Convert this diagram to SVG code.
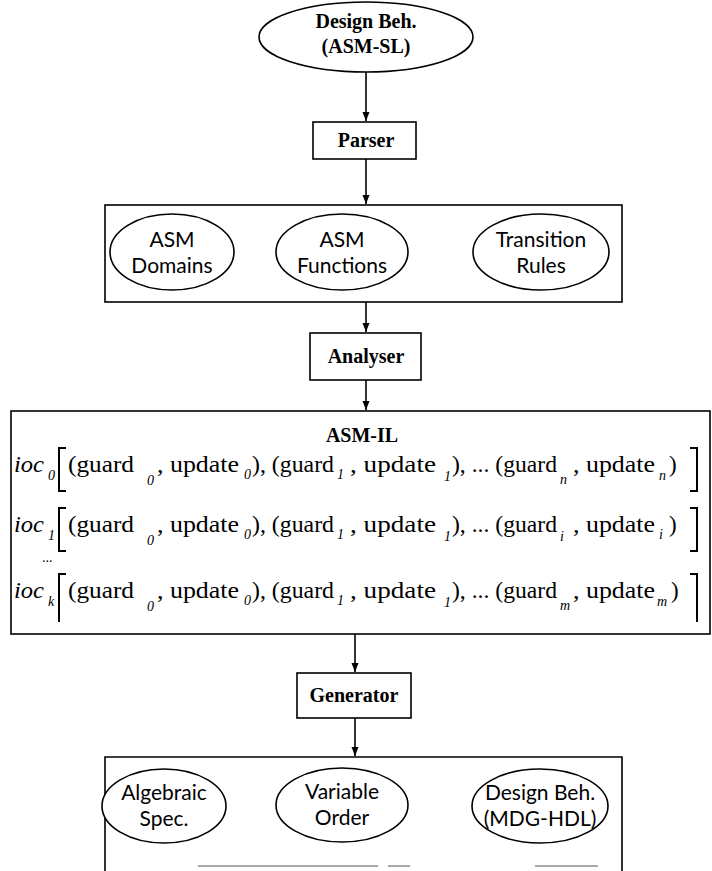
<svg xmlns="http://www.w3.org/2000/svg" width="712" height="871" viewBox="0 0 712 871">
<defs>
<marker id="ah" markerWidth="10" markerHeight="10" refX="9" refY="5" orient="auto" markerUnits="userSpaceOnUse">
<path d="M0,1.5 L9,5 L0,8.5 Z" fill="#000"/>
</marker>
<style>
.sh{fill:#fff;stroke:#000;stroke-width:1.6}
.ln{fill:none;stroke:#000;stroke-width:1.6}
.b{font-family:"Liberation Serif",serif;font-weight:bold;font-size:20px;fill:#000;text-anchor:middle}
.s{font-family:Lato,"Open Sans",sans-serif;font-size:21px;fill:#000;text-anchor:middle}
.r{font-family:"Liberation Serif",serif;font-size:23px;fill:#000}
.i{font-family:"Liberation Serif",serif;font-style:italic;font-size:23px;fill:#000}
.sub{font-family:"Liberation Serif",serif;font-style:italic;font-size:14px;fill:#000}
.br{fill:none;stroke:#000;stroke-width:2}
</style>
</defs>
<rect width="712" height="871" fill="#fff"/>

<g id="connectors">
<line class="ln" x1="366" y1="72" x2="366" y2="121" marker-end="url(#ah)"/>
<line class="ln" x1="366" y1="159" x2="366" y2="204" marker-end="url(#ah)"/>
<line class="ln" x1="366" y1="302" x2="366" y2="332" marker-end="url(#ah)"/>
<line class="ln" x1="366" y1="380" x2="366" y2="410" marker-end="url(#ah)"/>
<line class="ln" x1="355" y1="634" x2="355" y2="672" marker-end="url(#ah)"/>
<line class="ln" x1="355" y1="718" x2="355" y2="756" marker-end="url(#ah)"/>
</g>

<g id="design-beh-asmsl">
<ellipse class="sh" cx="366" cy="37" rx="107" ry="35"/>
<text class="b" x="366" y="28">Design Beh.</text>
<text class="b" x="366" y="53">(ASM-SL)</text>
</g>

<g id="parser">
<rect class="sh" x="313" y="122" width="103" height="37"/>
<text class="b" x="366" y="147">Parser</text>
</g>

<g id="asm-sl-parts">
<rect class="sh" x="105" y="205" width="517" height="97"/>
<g id="asm-domains">
<ellipse class="sh" cx="172" cy="252" rx="62" ry="38"/>
<text class="s" x="172" y="247">ASM</text>
<text class="s" x="172" y="273">Domains</text>
</g>
<g id="asm-functions">
<ellipse class="sh" cx="342" cy="252" rx="66" ry="38"/>
<text class="s" x="342" y="247">ASM</text>
<text class="s" x="342" y="273">Functions</text>
</g>
<g id="transition-rules">
<ellipse class="sh" cx="541" cy="252" rx="68" ry="38"/>
<text class="s" x="541" y="247">Transition</text>
<text class="s" x="541" y="273">Rules</text>
</g>
</g>

<g id="analyser">
<rect class="sh" x="310" y="333" width="111" height="47"/>
<text class="b" x="366" y="363">Analyser</text>
</g>

<g id="asm-il">
<rect class="sh" x="11" y="411" width="699" height="223"/>
<text class="b" x="362" y="442">ASM-IL</text>

<g id="row0">
<text class="i" x="14" y="472" textLength="30" lengthAdjust="spacingAndGlyphs">ioc</text><text class="sub" x="48" y="480">0</text>
<path class="br" d="M66,448 H59 V491 H66"/>
<text class="r" x="68" y="472" textLength="66" lengthAdjust="spacingAndGlyphs">(guard</text><text class="sub" x="147" y="485">0</text>
<text class="r" x="157" y="472" textLength="82" lengthAdjust="spacingAndGlyphs">, update</text><text class="sub" x="244" y="479">0</text>
<text class="r" x="252" y="472" textLength="82" lengthAdjust="spacingAndGlyphs">), (guard</text><text class="sub" x="337" y="479">1</text>
<text class="r" x="350" y="472" textLength="86" lengthAdjust="spacingAndGlyphs">, update</text><text class="sub" x="444" y="481">1</text>
<text class="r" x="452" y="472" textLength="105" lengthAdjust="spacingAndGlyphs">), ... (guard</text><text class="sub" x="560" y="484">n</text>
<text class="r" x="573" y="472" textLength="82" lengthAdjust="spacingAndGlyphs">, update</text><text class="sub" x="659" y="480">n</text>
<text class="r" x="669" y="472">)</text>
<path class="br" d="M690,448 H697 V491 H690"/>
</g>

<g id="row1">
<text class="i" x="14" y="532" textLength="30" lengthAdjust="spacingAndGlyphs">ioc</text><text class="sub" x="48" y="540">1</text>
<path class="br" d="M66,508 H59 V551 H66"/>
<text class="r" x="68" y="532" textLength="66" lengthAdjust="spacingAndGlyphs">(guard</text><text class="sub" x="147" y="545">0</text>
<text class="r" x="157" y="532" textLength="82" lengthAdjust="spacingAndGlyphs">, update</text><text class="sub" x="244" y="539">0</text>
<text class="r" x="252" y="532" textLength="82" lengthAdjust="spacingAndGlyphs">), (guard</text><text class="sub" x="337" y="539">1</text>
<text class="r" x="350" y="532" textLength="86" lengthAdjust="spacingAndGlyphs">, update</text><text class="sub" x="444" y="541">1</text>
<text class="r" x="452" y="532" textLength="105" lengthAdjust="spacingAndGlyphs">), ... (guard</text><text class="sub" x="560" y="541">i</text>
<text class="r" x="573" y="532" textLength="82" lengthAdjust="spacingAndGlyphs">, update</text><text class="sub" x="659" y="539">i</text>
<text class="r" x="669" y="532">)</text>
<path class="br" d="M690,508 H697 V551 H690"/>
</g>

<text class="r" x="42" y="562" style="font-size:14px">...</text>

<g id="row2">
<text class="i" x="14" y="598" textLength="30" lengthAdjust="spacingAndGlyphs">ioc</text><text class="sub" x="48" y="606">k</text>
<path class="br" d="M66,574 H59 V622"/>
<text class="r" x="68" y="598" textLength="66" lengthAdjust="spacingAndGlyphs">(guard</text><text class="sub" x="147" y="611">0</text>
<text class="r" x="157" y="598" textLength="82" lengthAdjust="spacingAndGlyphs">, update</text><text class="sub" x="244" y="605">0</text>
<text class="r" x="252" y="598" textLength="82" lengthAdjust="spacingAndGlyphs">), (guard</text><text class="sub" x="337" y="605">1</text>
<text class="r" x="350" y="598" textLength="86" lengthAdjust="spacingAndGlyphs">, update</text><text class="sub" x="444" y="607">1</text>
<text class="r" x="452" y="598" textLength="105" lengthAdjust="spacingAndGlyphs">), ... (guard</text><text class="sub" x="560" y="610">m</text>
<text class="r" x="573" y="598" textLength="82" lengthAdjust="spacingAndGlyphs">, update</text><text class="sub" x="657" y="606">m</text>
<text class="r" x="671" y="598">)</text>
<path class="br" d="M690,574 H697 V622"/>
</g>
</g>

<g id="generator">
<rect class="sh" x="297" y="673" width="114" height="45"/>
<text class="b" x="354" y="702">Generator</text>
</g>

<g id="outputs">
<path class="ln" d="M105,871 V757 H622 V871"/>
<g id="algebraic-spec">
<ellipse class="sh" cx="164" cy="806" rx="62" ry="37"/>
<text class="s" x="164" y="800">Algebraic</text>
<text class="s" x="164" y="826">Spec.</text>
</g>
<g id="variable-order">
<ellipse class="sh" cx="342" cy="805" rx="66" ry="37"/>
<text class="s" x="342" y="799">Variable</text>
<text class="s" x="342" y="825">Order</text>
</g>
<g id="design-beh-mdghdl">
<ellipse class="sh" cx="540" cy="806" rx="68" ry="37"/>
<text class="s" x="540" y="800">Design Beh.</text>
<text class="s" x="540" y="826">(MDG-HDL)</text>
</g>
<path fill="none" stroke="#555" stroke-width="1.2" d="M198,866 H378 M388,866 H410 M535,866 H598"/>
</g>
</svg>
